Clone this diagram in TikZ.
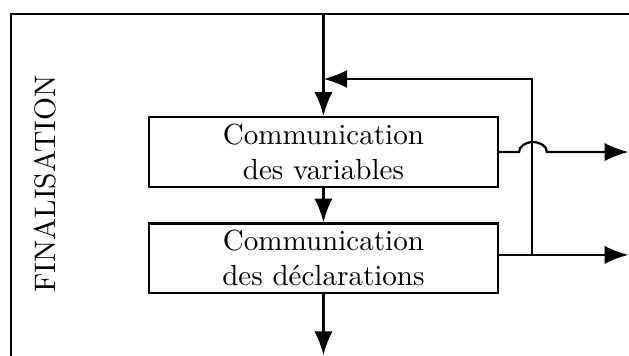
\documentclass[tikz,border=0pt]{standalone}
\usetikzlibrary{arrows.meta, positioning}
\tikzstyle{bloc} = [rectangle, minimum width = 4.39cm, minimum height = 0.88cm, align = center, inner sep = 0pt, draw = black, thick, font = \fontsize{10.4}{12.5}\selectfont]
\tikzstyle{titre} = [rotate = 90, font = \fontsize{10.6}{12.5}\selectfont]
\tikzstyle{arrow} = [thick, ->, >={Latex[length = 8.5pt, width = 6.5pt]}]

\begin{document}
\begin{tikzpicture}
    \useasboundingbox (0,0) rectangle (7.907,4.475);
    \clip (0,0) rectangle (7.907,4.475);
    % cadre de la phase
    \draw[thick] (0.138,-0.2) |- (8.2,4.30);
    \node(fin)[titre] at (0.566,2.16){FINALISATION};

    % \node(label)[style]{text};
    \node(var)[bloc] at (4.066,2.564){Communication\\des variables};
    \node(decl)[bloc, below = 0.43cm of var, minimum height = 0.87cm]{Communication\\des déclarations};

    \coordinate(haut) at (4.066,4.30);
    \coordinate(bas) at (4.066,0.01);
    \coordinate(sortie) at (7.9,0);
    \coordinate(retour) at (6.687,3.482);
    \coordinate(depart) at ([yshift = 0.04cm]decl.east);

    \draw[arrow](haut)--(var);
    \draw[arrow](var)--(decl);
    \draw[arrow](decl)--(bas);
    \draw[arrow](depart)--(depart -| sortie);
    \draw[arrow](depart -| retour)|-(retour -| var);
    \draw[arrow](var.east)--++(0.25,0) arc[start angle = 180, end angle = 0, x radius = 0.175cm, y radius = 0.125cm]--(var.east -| sortie);
\end{tikzpicture}
\end{document}
